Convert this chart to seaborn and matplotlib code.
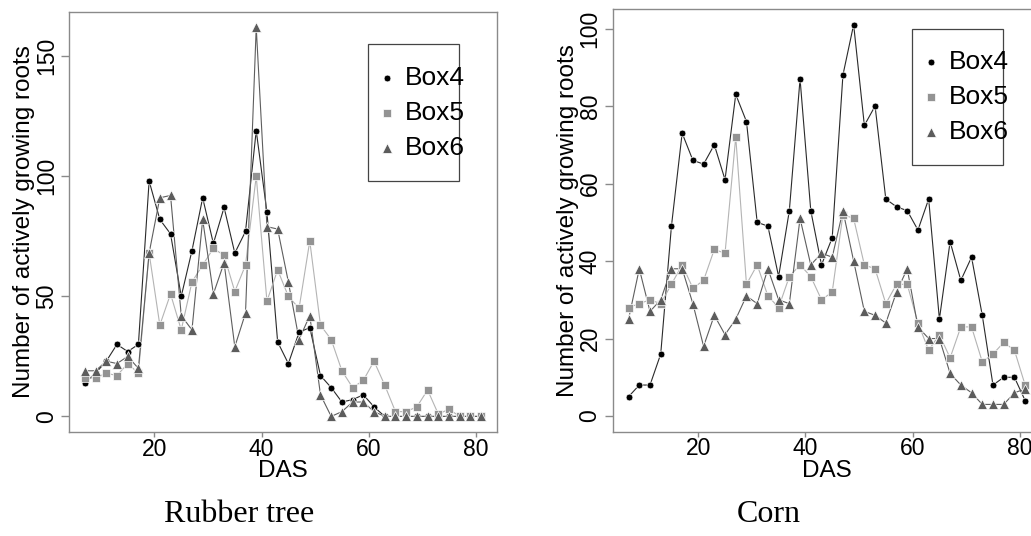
import matplotlib
matplotlib.use("Agg")
import matplotlib.pyplot as plt
from matplotlib.patches import Rectangle
import seaborn as sns
import pandas as pd

# ---------------- data ----------------
days = [7, 9, 11, 13, 15, 17, 19, 21, 23, 25, 27, 29, 31, 33, 35, 37, 39, 41, 43,
        45, 47, 49, 51, 53, 55, 57, 59, 61, 63, 65, 67, 69, 71, 73, 75, 77, 79, 81]
series_names = ["Box4", "Box5", "Box6"]

rubber_box4 = [14, 18, 23, 30, 27, 30, 98, 82, 76, 50, 69, 91, 72, 87, 68, 77, 119, 85, 31,
               22, 35, 37, 17, 12, 6, 7, 9, 4, 0, 0, 0, 0, 0, 0, 0, 0, 0, 0]
rubber_box5 = [16, 16, 18, 17, 22, 18, 68, 38, 51, 36, 56, 63, 70, 67, 52, 63, 100, 48, 61,
               50, 45, 73, 38, 32, 19, 12, 15, 23, 13, 2, 2, 4, 11, 1, 3, 0, 0, 0]
rubber_box6 = [19, 19, 23, 22, 25, 20, 68, 91, 92, 42, 36, 82, 51, 64, 29, 43, 162, 79, 78,
               56, 32, 42, 9, 0, 2, 6, 6, 2, 0, 0, 0, 0, 0, 0, 0, 0, 0, 0]

corn_box4 = [5, 8, 8, 16, 49, 73, 66, 65, 70, 61, 83, 76, 50, 49, 36, 53, 87, 53, 39,
             46, 88, 101, 75, 80, 56, 54, 53, 48, 56, 25, 45, 35, 41, 26, 8, 10, 10, 4]
corn_box5 = [28, 29, 30, 29, 34, 39, 33, 35, 43, 42, 72, 34, 39, 31, 28, 36, 39, 36, 30,
             32, 52, 51, 39, 38, 29, 34, 34, 24, 17, 21, 15, 23, 23, 14, 16, 19, 17, 8]
corn_box6 = [25, 38, 27, 30, 38, 38, 29, 18, 26, 21, 25, 31, 29, 38, 30, 29, 51, 39, 42,
             41, 53, 40, 27, 26, 24, 32, 38, 23, 20, 20, 11, 8, 6, 3, 3, 3, 6, 7]

x_ticks = [20, 40, 60, 80]
rubber_y_ticks = [0, 50, 100, 150]
corn_y_ticks = [0, 20, 40, 60, 80, 100]
x_label = "DAS"
y_label = "Number of actively growing roots"
captions = ["Rubber tree", "Corn"]

# ---------------- style ----------------
sns.set_style("white")
plt.rcParams["font.family"] = ["Liberation Sans", "DejaVu Sans"]
plt.rcParams["text.color"] = "black"
plt.rcParams["axes.labelcolor"] = "black"
plt.rcParams["xtick.color"] = "black"
plt.rcParams["ytick.color"] = "black"

marker_colors = {"Box4": "#000000", "Box5": "#939393", "Box6": "#5c5c5c"}
line_colors = {"Box4": "#2a2a2a", "Box5": "#b4b4b4", "Box6": "#5e5e5e"}
markers = {"Box4": "o", "Box5": "s", "Box6": "^"}
sizes = {"Box4": 24, "Box5": 36, "Box6": 50}

W, H = 1031, 536
fig = plt.figure(figsize=(W / 100, H / 100), dpi=100)


def px_axes(l, t, r, b):
    return [l / W, 1 - b / H, (r - l) / W, (b - t) / H]


ax1 = fig.add_axes(px_axes(69, 11.7, 497, 432))
ax2 = fig.add_axes(px_axes(612.7, 9, 1041, 431.7))


def draw_panel(ax, data, yticks, legend_anchor, legend_rect, ax_w_px, ax_h_px):
    for name in series_names:
        df = pd.DataFrame({"DAS": days, "roots": data[name]})
        sns.lineplot(data=df, x="DAS", y="roots", color=line_colors[name],
                     linewidth=0.8, ax=ax, zorder=2)
        sns.scatterplot(data=df, x="DAS", y="roots", marker=markers[name],
                        color=marker_colors[name], s=sizes[name],
                        edgecolor="white", linewidth=0.5, label=name, ax=ax, zorder=3)
    hi = max(max(data[n]) for n in series_names)
    lo = 0
    ax.set_ylim(lo - 0.04 * (hi - lo), hi + 0.04 * (hi - lo))
    dlo, dhi = min(days), max(days)
    ax.set_xlim(dlo - 0.04 * (dhi - dlo), dhi + 0.04 * (dhi - dlo))
    ax.set_xticks(x_ticks)
    ax.set_yticks(yticks)
    ax.set_xticklabels([str(t) for t in x_ticks])
    ax.set_yticklabels([str(t) for t in yticks])

    for sp in ax.spines.values():
        sp.set_color("#8a8a8a")
        sp.set_linewidth(1.0)
    ax.tick_params(axis="both", which="major", labelsize=16.5, color="#8a8a8a",
                   width=1, direction="out", bottom=True, left=True)
    ax.tick_params(axis="x", length=3.5, pad=0.5)
    ax.tick_params(axis="y", length=6, pad=2, labelrotation=90)
    for lab in ax.get_yticklabels():
        lab.set_va("center")

    ax.set_xlabel(x_label, fontsize=17.5)
    ax.set_ylabel(y_label, fontsize=17.5)
    ax.xaxis.set_label_coords(0.5, -39 / ax_h_px)
    ax.xaxis.label.set_va("center")
    ax.yaxis.set_label_coords(-45 / ax_w_px, 0.5)
    ax.yaxis.label.set_va("center")

    handles, labels = ax.get_legend_handles_labels()
    keep = [(h, l) for h, l in zip(handles, labels) if l in series_names]
    ax.legend([h for h, _ in keep], [l for _, l in keep], loc="center left",
              bbox_to_anchor=legend_anchor, frameon=False, fontsize=19,
              borderpad=0, borderaxespad=0, handlelength=0.7, handletextpad=0.33,
              labelspacing=0.42, scatterpoints=1)
    x0, y0, w, h = legend_rect
    ax.add_patch(Rectangle((x0, y0), w, h, transform=ax.transAxes, fill=False,
                           edgecolor="#444444", linewidth=0.9, zorder=5,
                           clip_on=False))


draw_panel(ax1, {"Box4": rubber_box4, "Box5": rubber_box5, "Box6": rubber_box6},
           rubber_y_ticks, (0.7205, 0.759), (0.6993, 0.5979, 0.2119, 0.3245), 428, 420.3)
draw_panel(ax2, {"Box4": corn_box4, "Box5": corn_box5, "Box6": corn_box6},
           corn_y_ticks, (0.7207, 0.7911), (0.6995, 0.631, 0.2115, 0.3217), 428.3, 422.7)

fig.text(239.5 / W, 1 - 515 / H, captions[0], family=["Liberation Serif"],
         fontsize=23, ha="center", va="center")
fig.text(769 / W, 1 - 515 / H, captions[1], family=["Liberation Serif"],
         fontsize=23, ha="center", va="center")

fig.savefig("out.png", dpi=100)
